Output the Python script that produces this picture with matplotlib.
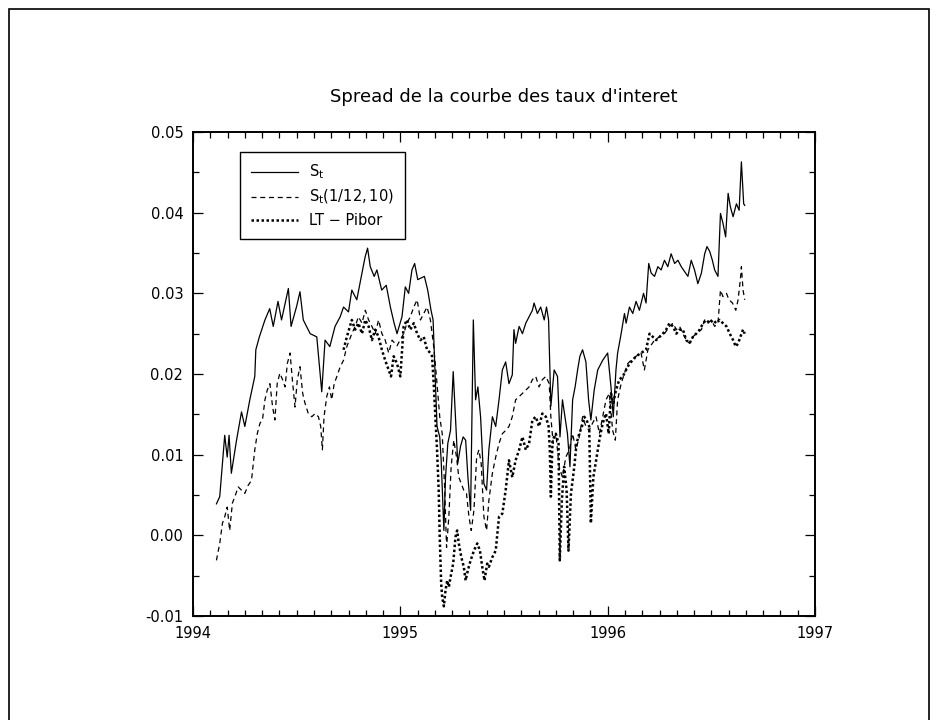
import matplotlib
matplotlib.use("Agg")
import matplotlib.pyplot as plt
from matplotlib.ticker import MultipleLocator, FormatStrFormatter
from matplotlib.patches import Rectangle

# ─── Data (decimal years, spread) ────────────────────────────────────────────
st_years = [
    1994.113, 1994.129, 1994.137, 1994.153, 1994.165, 1994.174, 1994.185, 1994.21,
    1994.234, 1994.25, 1994.274, 1994.298, 1994.303, 1994.32, 1994.347, 1994.37,
    1994.387, 1994.41, 1994.427, 1994.46, 1994.473, 1994.5, 1994.516, 1994.532,
    1994.565, 1994.597, 1994.621, 1994.637, 1994.66, 1994.685, 1994.71, 1994.726,
    1994.75, 1994.766, 1994.79, 1994.815, 1994.83, 1994.842, 1994.855, 1994.874,
    1994.887, 1994.91, 1994.932, 1994.952, 1994.97, 1994.984, 1995.008, 1995.024,
    1995.04, 1995.056, 1995.069, 1995.084, 1995.1, 1995.116, 1995.132, 1995.148,
    1995.158, 1995.177, 1995.19, 1995.197, 1995.21, 1995.218, 1995.229, 1995.242,
    1995.255, 1995.266, 1995.277, 1995.29, 1995.303, 1995.315, 1995.326, 1995.339,
    1995.352, 1995.363, 1995.374, 1995.387, 1995.403, 1995.416, 1995.427, 1995.444,
    1995.46, 1995.476, 1995.492, 1995.508, 1995.524, 1995.54, 1995.548, 1995.556,
    1995.573, 1995.589, 1995.605, 1995.621, 1995.637, 1995.645, 1995.661, 1995.677,
    1995.694, 1995.705, 1995.715, 1995.726, 1995.742, 1995.758, 1995.77, 1995.782,
    1995.794, 1995.806, 1995.818, 1995.831, 1995.843, 1995.855, 1995.866, 1995.879,
    1995.895, 1995.908, 1995.919, 1995.935, 1995.952, 1995.976, 1996.0, 1996.016,
    1996.027, 1996.04, 1996.048, 1996.065, 1996.081, 1996.089, 1996.105, 1996.121,
    1996.137, 1996.153, 1996.173, 1996.185, 1996.198, 1996.21, 1996.226, 1996.242,
    1996.258, 1996.274, 1996.29, 1996.306, 1996.323, 1996.339, 1996.355, 1996.371,
    1996.387, 1996.403, 1996.419, 1996.435, 1996.452, 1996.468, 1996.479, 1996.492,
    1996.505, 1996.516, 1996.532, 1996.544, 1996.556, 1996.569, 1996.581, 1996.592,
    1996.605, 1996.621, 1996.634, 1996.645, 1996.656, 1996.661,
]
st_vals = [
    0.0039, 0.0048, 0.0073, 0.0124, 0.0097, 0.0124, 0.0077, 0.0118,
    0.0153, 0.0135, 0.0168, 0.0197, 0.0230, 0.0246, 0.0267, 0.0281,
    0.0259, 0.0290, 0.0267, 0.0306, 0.0259, 0.0284, 0.0302, 0.0267,
    0.0250, 0.0246, 0.0178, 0.0242, 0.0234, 0.0259, 0.0271, 0.0283,
    0.0277, 0.0304, 0.0292, 0.0325, 0.0345, 0.0356, 0.0333, 0.0321,
    0.0329, 0.0304, 0.0310, 0.0283, 0.0263, 0.0250, 0.0271, 0.0308,
    0.0300, 0.0329, 0.0337, 0.0317, 0.0319, 0.0321, 0.0304, 0.0279,
    0.0267, 0.0135, 0.0122, 0.0093, 0.0006, 0.0072, 0.0114, 0.0130,
    0.0203, 0.0147, 0.0089, 0.0110, 0.0122, 0.0118, 0.0072, 0.0031,
    0.0267, 0.0168, 0.0184, 0.0147, 0.0064, 0.0056, 0.0106, 0.0147,
    0.0135, 0.0168, 0.0205, 0.0215, 0.0188, 0.0199, 0.0255, 0.0238,
    0.0259, 0.0250, 0.0263, 0.0271, 0.0279, 0.0288, 0.0275, 0.0283,
    0.0267, 0.0283, 0.0267, 0.0160, 0.0205, 0.0197, 0.0122, 0.0168,
    0.0147, 0.0126, 0.0085, 0.0168, 0.0184, 0.0205, 0.0222, 0.0230,
    0.0215, 0.0168, 0.0143, 0.0180, 0.0205, 0.0217, 0.0226, 0.0184,
    0.0147, 0.0205, 0.0226, 0.0250, 0.0275, 0.0263, 0.0283, 0.0275,
    0.0290, 0.0279, 0.0300, 0.0288, 0.0337, 0.0325, 0.0321, 0.0333,
    0.0329, 0.0341, 0.0333, 0.0349, 0.0337, 0.0341, 0.0333, 0.0327,
    0.0321, 0.0341, 0.0329, 0.0312, 0.0325, 0.0349, 0.0358, 0.0352,
    0.0341, 0.0329, 0.0321, 0.0399, 0.0387, 0.0370, 0.0424, 0.0407,
    0.0395, 0.0411, 0.0403, 0.0463, 0.0411, 0.0409,
]

model_years = [
    1994.113, 1994.129, 1994.142, 1994.153, 1994.165, 1994.177, 1994.19, 1994.202,
    1994.218, 1994.234, 1994.25, 1994.266, 1994.282, 1994.298, 1994.31, 1994.323,
    1994.335, 1994.347, 1994.358, 1994.371, 1994.384, 1994.395, 1994.406, 1994.419,
    1994.432, 1994.444, 1994.455, 1994.468, 1994.481, 1994.492, 1994.503, 1994.516,
    1994.529, 1994.54, 1994.556, 1994.573, 1994.589, 1994.605, 1994.616, 1994.624,
    1994.632, 1994.645, 1994.658, 1994.669, 1994.681, 1994.694, 1994.71, 1994.726,
    1994.742, 1994.766, 1994.782, 1994.798, 1994.815, 1994.831, 1994.847, 1994.863,
    1994.879, 1994.895, 1994.911, 1994.927, 1994.944, 1994.96, 1994.984, 1995.016,
    1995.032, 1995.048, 1995.065, 1995.081, 1995.097, 1995.113, 1995.129, 1995.145,
    1995.161, 1995.177, 1995.19, 1995.202, 1995.213, 1995.223, 1995.234, 1995.245,
    1995.258, 1995.271, 1995.282, 1995.294, 1995.306, 1995.319, 1995.331, 1995.342,
    1995.355, 1995.368, 1995.379, 1995.39, 1995.403, 1995.416, 1995.427, 1995.444,
    1995.46, 1995.476, 1995.492, 1995.508, 1995.524, 1995.54, 1995.556, 1995.573,
    1995.589, 1995.605, 1995.621, 1995.637, 1995.653, 1995.669, 1995.685, 1995.702,
    1995.718, 1995.726, 1995.737, 1995.75, 1995.766, 1995.782, 1995.798, 1995.815,
    1995.831, 1995.847, 1995.863, 1995.879, 1995.895, 1995.911, 1995.927, 1995.944,
    1995.96, 1995.976, 1995.992, 1996.008, 1996.024, 1996.037, 1996.048, 1996.065,
    1996.081, 1996.097, 1996.113, 1996.137, 1996.161, 1996.177, 1996.194, 1996.226,
    1996.25, 1996.274, 1996.298, 1996.315, 1996.331, 1996.347, 1996.363, 1996.379,
    1996.395, 1996.411, 1996.427, 1996.452, 1996.468, 1996.484, 1996.5, 1996.516,
    1996.532, 1996.544, 1996.556, 1996.573, 1996.585, 1996.602, 1996.618, 1996.629,
    1996.64, 1996.645, 1996.653, 1996.661,
]
model_vals = [
    -0.0031, -0.0010, 0.0015, 0.0023, 0.0035, 0.0006, 0.0040, 0.0048,
    0.0060, 0.0056, 0.0052, 0.0062, 0.0068, 0.0106, 0.0126, 0.0139,
    0.0143, 0.0168, 0.0180, 0.0188, 0.0159, 0.0143, 0.0188, 0.0201,
    0.0193, 0.0184, 0.0213, 0.0226, 0.0188, 0.0159, 0.0193, 0.0209,
    0.0176, 0.0164, 0.0151, 0.0147, 0.0151, 0.0147, 0.0135, 0.0106,
    0.0147, 0.0172, 0.0184, 0.0168, 0.0188, 0.0197, 0.0209, 0.0217,
    0.0234, 0.0250, 0.0259, 0.0271, 0.0263, 0.0279, 0.0267, 0.0259,
    0.0250, 0.0267, 0.0250, 0.0242, 0.0226, 0.0242, 0.0235, 0.0250,
    0.0263, 0.0271, 0.0283, 0.0292, 0.0267, 0.0275, 0.0283, 0.0267,
    0.0234, 0.0188, 0.0147, 0.0126, 0.0064, -0.0015, 0.0023, 0.0085,
    0.0118, 0.0097, 0.0072, 0.0064, 0.0056, 0.0052, 0.0023, 0.0006,
    0.0031, 0.0097, 0.0106, 0.0089, 0.0023, 0.0006, 0.0043, 0.0077,
    0.0097, 0.0114, 0.0126, 0.0130, 0.0135, 0.0147, 0.0168, 0.0172,
    0.0176, 0.0180, 0.0184, 0.0193, 0.0197, 0.0184, 0.0193, 0.0197,
    0.0188, 0.0147, 0.0114, 0.0126, 0.0085, 0.0072, 0.0097, 0.0106,
    0.0126, 0.0106, 0.0122, 0.0147, 0.0135, 0.0130, 0.0139, 0.0147,
    0.0126, 0.0147, 0.0168, 0.0176, 0.0130, 0.0118, 0.0168, 0.0188,
    0.0201, 0.0213, 0.0217, 0.0222, 0.0226, 0.0205, 0.0230, 0.0242,
    0.0246, 0.0250, 0.0259, 0.0263, 0.0255, 0.0259, 0.0250, 0.0242,
    0.0238, 0.0246, 0.0250, 0.0255, 0.0267, 0.0263, 0.0267, 0.0259,
    0.0263, 0.0304, 0.0296, 0.0300, 0.0292, 0.0288, 0.0279, 0.0292,
    0.0317, 0.0333, 0.0304, 0.0292,
]

pibor_years = [
    1994.726, 1994.742, 1994.766, 1994.782, 1994.798, 1994.815, 1994.831, 1994.847,
    1994.863, 1994.879, 1994.895, 1994.911, 1994.927, 1994.944, 1994.955, 1994.968,
    1994.984, 1995.0, 1995.016, 1995.032, 1995.048, 1995.065, 1995.081, 1995.097,
    1995.113, 1995.129, 1995.145, 1995.153, 1995.161, 1995.169, 1995.177, 1995.185,
    1995.19, 1995.197, 1995.202, 1995.21, 1995.218, 1995.226, 1995.234, 1995.242,
    1995.255, 1995.266, 1995.274, 1995.282, 1995.294, 1995.306, 1995.315, 1995.326,
    1995.339, 1995.355, 1995.371, 1995.384, 1995.395, 1995.406, 1995.419, 1995.427,
    1995.444, 1995.46, 1995.476, 1995.492, 1995.508, 1995.524, 1995.54, 1995.556,
    1995.573, 1995.589, 1995.605, 1995.621, 1995.637, 1995.653, 1995.669, 1995.685,
    1995.702, 1995.715, 1995.721, 1995.726, 1995.734, 1995.75, 1995.763, 1995.769,
    1995.779, 1995.79, 1995.802, 1995.811, 1995.823, 1995.839, 1995.85, 1995.863,
    1995.876, 1995.887, 1995.898, 1995.911, 1995.919, 1995.931, 1995.944, 1995.96,
    1995.976, 1995.992, 1996.005, 1996.016, 1996.027, 1996.04, 1996.056, 1996.073,
    1996.089, 1996.105, 1996.121, 1996.137, 1996.161, 1996.185, 1996.202, 1996.218,
    1996.234, 1996.25, 1996.266, 1996.282, 1996.298, 1996.315, 1996.331, 1996.347,
    1996.363, 1996.379, 1996.395, 1996.411, 1996.427, 1996.444, 1996.46, 1996.476,
    1996.492, 1996.508, 1996.524, 1996.54, 1996.556, 1996.573, 1996.589, 1996.605,
    1996.618, 1996.629, 1996.64, 1996.653, 1996.661,
]
pibor_vals = [
    0.0230, 0.0246, 0.0267, 0.0255, 0.0263, 0.0250, 0.0267, 0.0259,
    0.0242, 0.0255, 0.0246, 0.0230, 0.0217, 0.0205, 0.0197, 0.0222,
    0.0213, 0.0197, 0.0259, 0.0267, 0.0255, 0.0263, 0.0250, 0.0242,
    0.0246, 0.0230, 0.0226, 0.0222, 0.0188, 0.0147, 0.0106, 0.0056,
    -0.0002, -0.0060, -0.0077, -0.0088, -0.0068, -0.0056, -0.0064, -0.0052,
    -0.0035, -0.0002, 0.0006, -0.0010, -0.0027, -0.0039, -0.0056, -0.0043,
    -0.0031, -0.0019, -0.0010, -0.0019, -0.0039, -0.0056, -0.0035, -0.0039,
    -0.0027, -0.0019, 0.0023, 0.0027, 0.0056, 0.0093, 0.0072, 0.0093,
    0.0106, 0.0122, 0.0106, 0.0114, 0.0143, 0.0147, 0.0135, 0.0151,
    0.0147, 0.0135, 0.0106, 0.0048, 0.0118, 0.0126, 0.0114, -0.0031,
    0.0043, 0.0085, 0.0056, -0.0019, 0.0052, 0.0085, 0.0114, 0.0126,
    0.0135, 0.0147, 0.0143, 0.0135, 0.0015, 0.0072, 0.0093, 0.0118,
    0.0139, 0.0151, 0.0126, 0.0176, 0.0164, 0.0180, 0.0193, 0.0197,
    0.0205, 0.0213, 0.0217, 0.0222, 0.0226, 0.0230, 0.0250, 0.0246,
    0.0242, 0.0246, 0.0250, 0.0255, 0.0263, 0.0259, 0.0250, 0.0255,
    0.0255, 0.0242, 0.0238, 0.0246, 0.0250, 0.0255, 0.0263, 0.0267,
    0.0263, 0.0267, 0.0263, 0.0267, 0.0263, 0.0259, 0.0250, 0.0242,
    0.0234, 0.0238, 0.0246, 0.0255, 0.0250,
]

TITLE = "Spread de la courbe des taux d'interet"
LABELS = [r"$\mathrm{S_t}$", r"$\mathrm{S_t(1/12,10)}$", "LT \u2212 Pibor"]

# ─── Figure ──────────────────────────────────────────────────────────────────
plt.rcParams["font.family"] = ["DejaVu Sans"]
fig = plt.figure(figsize=(9.36, 7.2), dpi=100)

# outer frame (open at the bottom edge, as in the reference)
fig.patches.append(Rectangle((9 / 936, -0.05), 920 / 936, 1.05 - 9 / 720,
                             transform=fig.transFigure, fill=False,
                             edgecolor="black", linewidth=1.2))

ax = fig.add_axes([193 / 936, 104 / 720, 622 / 936, 484 / 720])

ax.plot(st_years, st_vals, color="black", linewidth=0.9, label=LABELS[0])
ax.plot(model_years, model_vals, color="black", linewidth=0.9,
        linestyle=(0, (4, 3)), label=LABELS[1])
ax.plot(pibor_years, pibor_vals, color="black", linewidth=1.8,
        linestyle=(0, (1, 1)), label=LABELS[2])

ax.set_xlim(1994, 1997)
ax.set_ylim(-0.01, 0.05)
ax.xaxis.set_major_locator(MultipleLocator(1))
ax.xaxis.set_minor_locator(MultipleLocator(1 / 12))
ax.yaxis.set_major_locator(MultipleLocator(0.01))
ax.yaxis.set_minor_locator(MultipleLocator(0.005))
ax.yaxis.set_major_formatter(FormatStrFormatter("%.2f"))
ax.xaxis.set_major_formatter(FormatStrFormatter("%d"))

ax.tick_params(which="both", direction="in", top=True, right=True,
               labelsize=10.5, width=0.9)
ax.tick_params(which="major", length=7, pad=7)
ax.tick_params(which="minor", length=4)
for s in ax.spines.values():
    s.set_linewidth(1.4)

fig.text(504 / 936, 1 - 97 / 720, TITLE, ha="center", va="center", fontsize=13)

leg = ax.legend(loc="upper left", bbox_to_anchor=(0.0756, 0.959),
                borderaxespad=0, fancybox=False, edgecolor="black",
                framealpha=1, fontsize=10.5, handlelength=3.2,
                handletextpad=0.8, labelspacing=0.45, borderpad=0.75)
leg.get_frame().set_linewidth(1.0)

plt.savefig("out.png", dpi=100)
plt.close()
